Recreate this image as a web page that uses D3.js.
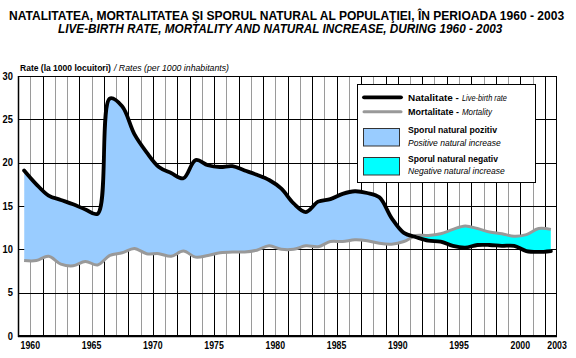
<!DOCTYPE html>
<html><head><meta charset="utf-8">
<script src="https://cdn.jsdelivr.net/npm/d3@7"></script>
<style>
body{margin:0;background:#fff}
svg{display:block}
text{font-family:"Liberation Sans",Arial,Helvetica,sans-serif;fill:#000}
</style>
</head><body>
<svg id="c" width="576" height="358"></svg>
<script>
const years=[1960,1961,1962,1963,1964,1965,1966,1967,1968,1969,1970,1971,1972,1973,1974,1975,1976,1977,1978,1979,1980,1981,1982,1983,1984,1985,1986,1987,1988,1989,1990,1991,1992,1993,1994,1995,1996,1997,1998,1999,2000,2001,2002,2003];
const natalitate=[19.1,17.5,16.2,15.7,15.2,14.6,14.1,27.4,26.5,23.3,21.2,19.5,18.8,18.2,20.3,19.7,19.5,19.6,19.1,18.6,18.0,17.0,15.3,14.3,15.5,15.8,16.4,16.7,16.5,16.0,13.6,11.9,11.4,11.0,10.9,10.4,10.2,10.5,10.5,10.4,10.4,9.8,9.7,9.8];
const mortalitate=[8.7,8.7,9.2,8.3,8.1,8.6,8.2,9.3,9.6,10.1,9.5,9.5,9.2,9.8,9.1,9.3,9.6,9.7,9.7,9.9,10.4,10.0,10.0,10.4,10.3,10.9,10.9,11.1,11.0,10.7,10.6,10.9,11.6,11.6,11.8,12.3,12.7,12.4,12.0,11.8,11.5,11.7,12.4,12.3];
const xTickYears=[1960,1965,1970,1975,1980,1985,1990,1995,2000,2003];
const yTicks=[0,5,10,15,20,25,30];

const svg=d3.select('#c');
const L=18,R=557,T=76,B=336;
const x=d3.scaleLinear().domain([1959.5,2003.5]).range([L,R]);
const y=d3.scaleLinear().domain([0,30]).range([B,T]);
const data=years.map((yr,i)=>({yr,n:natalitate[i],m:mortalitate[i]}));
const curve=d3.curveCatmullRom.alpha(0.5);

// text drawn at natural size then narrowed horizontally to the reference width
function txt(parent,xp,yp,size,len,str,bold,italic,anchor){
  const t=parent.append('text').attr('x',0).attr('y',0).attr('font-size',size).text(str);
  if(bold)t.attr('font-weight','bold');
  if(italic)t.attr('font-style','italic');
  if(anchor)t.attr('text-anchor',anchor);
  const w=t.node().getComputedTextLength();
  const s=w>0?len/w:1;
  t.attr('transform',`translate(${xp},${yp}) scale(${s},1)`);
  return t;
}

// titles
txt(svg,9,20,12.5,556,'NATALITATEA, MORTALITATEA ŞI SPORUL NATURAL AL POPULAŢIEI, ÎN PERIOADA 1960 - 2003',true,false);
txt(svg,58,33,12.5,445,'LIVE-BIRTH RATE, MORTALITY AND NATURAL INCREASE, DURING 1960 - 2003',true,true);
txt(svg,20,70.5,9.3,91,'Rate (la 1000 locuitori)',true,false);
txt(svg,114,70.5,9.3,115,'/ Rates (per 1000 inhabitants)',false,true);

// grid
const shifts=[3,13,30];
const tone=i=>((shifts.filter(s=>i>=s).length+i)%2===0)?'#9a9a9a':'#000';
const grid=svg.append('g');
grid.selectAll('line.v').data(years.slice(0,-1)).join('line').attr('class','v')
  .attr('x1',d=>Math.round(x(d+0.5))+0.5).attr('x2',d=>Math.round(x(d+0.5))+0.5).attr('y1',T).attr('y2',B)
  .attr('stroke',(d,i)=>tone(i)).attr('stroke-width',1);
grid.selectAll('line.h').data(yTicks.slice(1,-1)).join('line').attr('class','h')
  .attr('x1',L).attr('x2',R).attr('y1',d=>Math.round(y(d))+0.5).attr('y2',d=>Math.round(y(d))+0.5)
  .attr('stroke','#000').attr('stroke-width',1);

// clip paths
const defs=svg.append('defs');
defs.append('clipPath').attr('id','belowNat').append('path')
  .attr('d',d3.area().curve(curve).x(d=>x(d.yr)).y0(B).y1(d=>y(d.n))(data));
defs.append('clipPath').attr('id','aboveNat').append('path')
  .attr('d',d3.area().curve(curve).x(d=>x(d.yr)).y0(T).y1(d=>y(d.n))(data));

// areas
svg.append('path').attr('clip-path','url(#belowNat)').attr('fill','#99ccff')
  .attr('d',d3.area().curve(curve).x(d=>x(d.yr)).y0(T).y1(d=>y(d.m))(data));
svg.append('path').attr('clip-path','url(#aboveNat)').attr('fill','#00ffff')
  .attr('d',d3.area().curve(curve).x(d=>x(d.yr)).y0(B).y1(d=>y(d.m))(data));

// lines
svg.append('path').attr('fill','none').attr('stroke','#999').attr('stroke-width',3).attr('stroke-linejoin','round')
  .attr('d',d3.line().curve(curve).x(d=>x(d.yr)).y(d=>y(d.m))(data));
svg.append('path').attr('fill','none').attr('stroke','#000').attr('stroke-width',3.8).attr('stroke-linejoin','round').attr('stroke-linecap','round')
  .attr('d',d3.line().curve(curve).x(d=>x(d.yr)).y(d=>y(d.n))(data));

// frame
svg.append('rect').attr('x',L+0.5).attr('y',T+0.5).attr('width',R-L-1).attr('height',B-T-1)
  .attr('fill','none').attr('stroke','#000').attr('stroke-width',1);
svg.append('line').attr('x1',L+0.5).attr('x2',L+0.5).attr('y1',T).attr('y2',B+1).attr('stroke','#000').attr('stroke-width',1.5);
svg.append('line').attr('x1',L).attr('x2',R).attr('y1',B+0.5).attr('y2',B+0.5).attr('stroke','#000').attr('stroke-width',1.5);

// tick labels
const ax=svg.append('g');
xTickYears.forEach(d=>txt(ax,x(d+0.5),349,10,19.5,String(d),true,false,'middle'));
yTicks.forEach(d=>txt(ax,13,y(d)+3.7,10,String(d).length*5.2,String(d),true,false,'end'));

// legend
const lg=svg.append('g');
lg.append('rect').attr('x',357.5).attr('y',84.5).attr('width',178).attr('height',98)
  .attr('fill','#fff').attr('stroke','#000').attr('stroke-width',1);
lg.append('line').attr('x1',364).attr('x2',401).attr('y1',97.3).attr('y2',97.3).attr('stroke','#000').attr('stroke-width',3.8).attr('stroke-linecap','round');
lg.append('line').attr('x1',364).attr('x2',401).attr('y1',111.7).attr('y2',111.7).attr('stroke','#999').attr('stroke-width',3).attr('stroke-linecap','round');
lg.append('rect').attr('x',363.5).attr('y',128.5).attr('width',36).attr('height',17.5).attr('fill','#99ccff').attr('stroke','#333').attr('stroke-width',1);
lg.append('rect').attr('x',363.5).attr('y',157.5).attr('width',36).attr('height',17.5).attr('fill','#00ffff').attr('stroke','#333').attr('stroke-width',1);
txt(lg,408,100.5,9.5,51,'Natalitate -',true,false);
txt(lg,462,100.5,9.5,45,'Live-birth rate',false,true);
txt(lg,408,115,9.5,51,'Mortalitate -',true,false);
txt(lg,462,115,9.5,30,'Mortality',false,true);
txt(lg,408,133.3,9.5,89,'Sporul natural pozitiv',true,false);
txt(lg,408,145.6,9.5,93,'Positive natural increase',false,true);
txt(lg,408,161.6,9.5,90,'Sporul natural negativ',true,false);
txt(lg,408,173.9,9.5,97,'Negative natural increase',false,true);
</script>
</body></html>
